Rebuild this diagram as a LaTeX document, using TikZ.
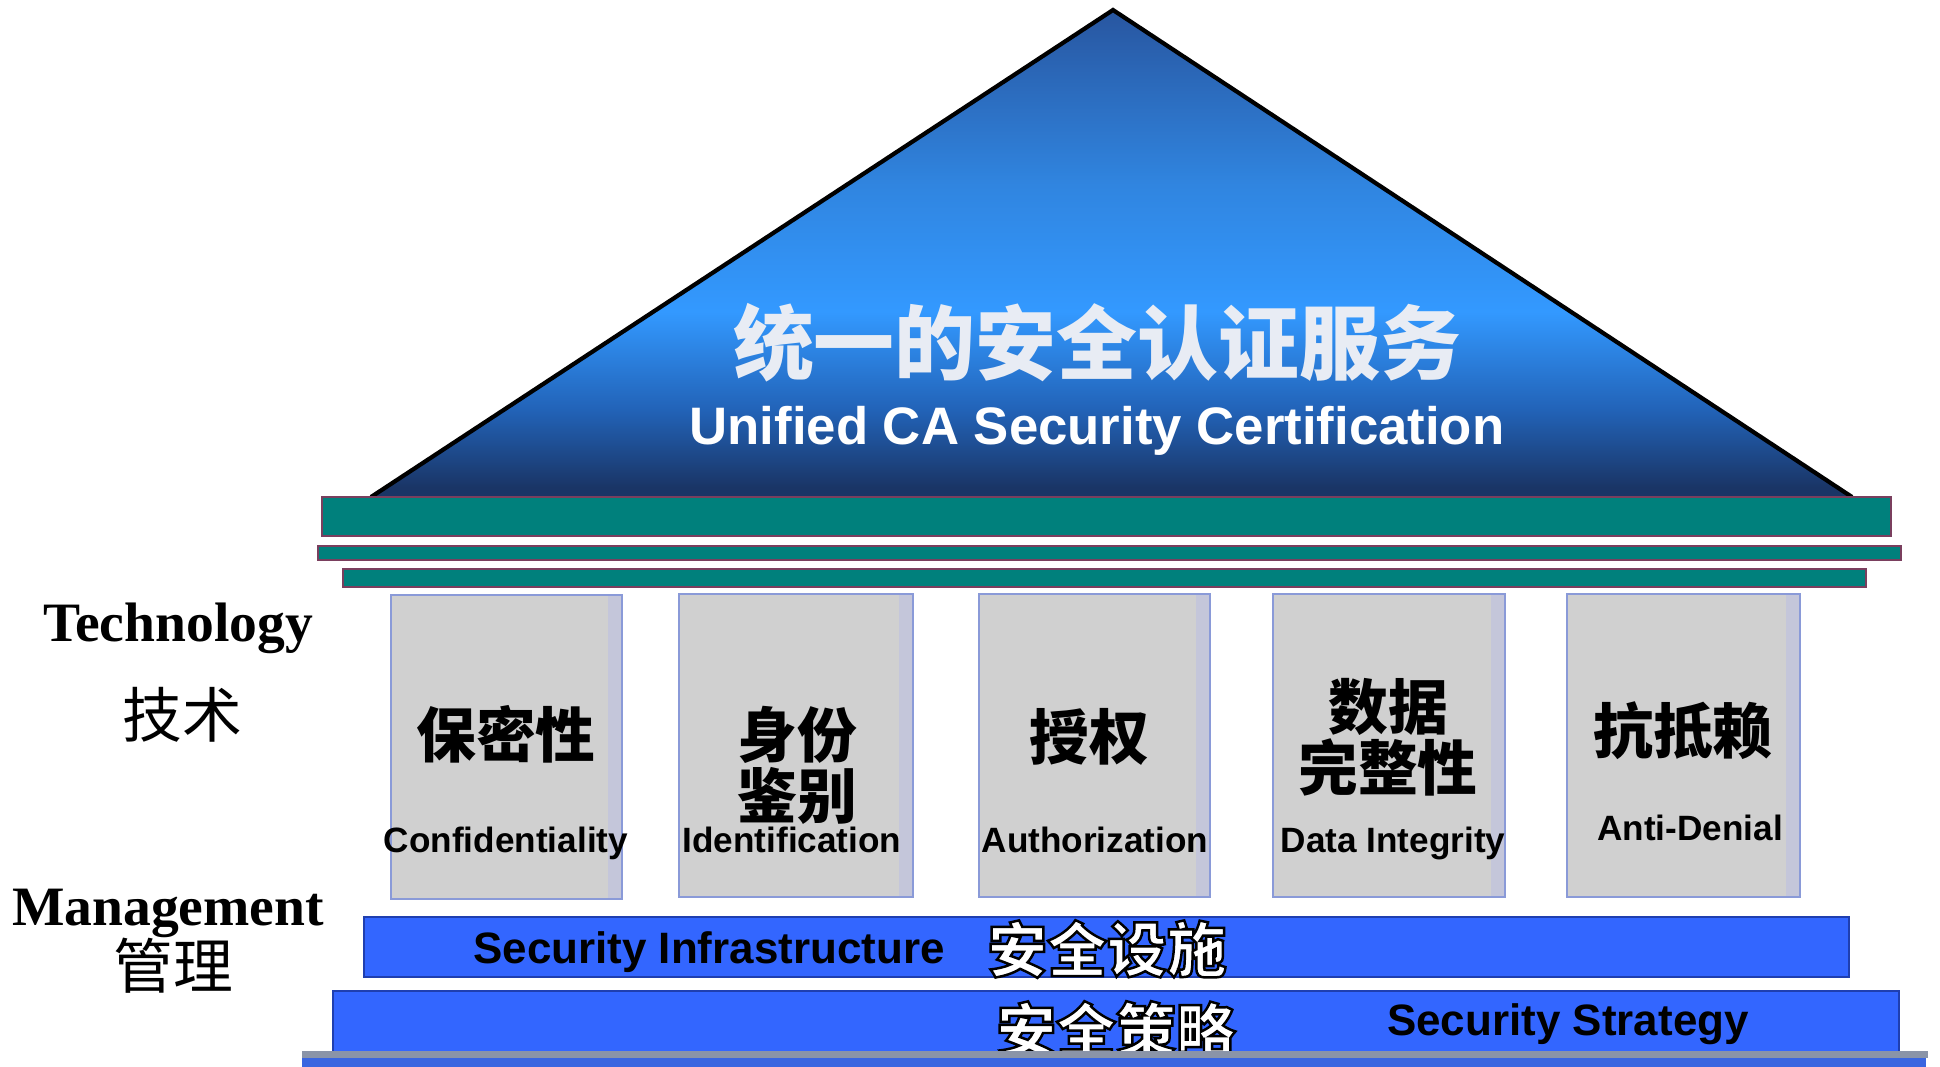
\documentclass[tikz,border=0pt]{standalone}
\usepackage{fontspec}
\setmainfont{Liberation Sans}
\newfontfamily\timesf{Liberation Serif}
\newfontfamily\cjk{Noto Sans CJK SC}
\definecolor{tealbar}{HTML}{00807C}
\definecolor{tealedge}{HTML}{7A3F5E}
\definecolor{pillarfill}{HTML}{D0D0D0}
\definecolor{pillaredge}{HTML}{8A9AD8}
\definecolor{pillarside}{HTML}{C4C6DA}
\definecolor{barblue}{HTML}{3366FF}
\definecolor{baredge}{HTML}{1F3FB0}
\definecolor{stripgray}{HTML}{8A94A8}
\definecolor{stripblue}{HTML}{3A66E0}
\definecolor{headtxt}{HTML}{E8ECF4}
\definecolor{rA}{HTML}{2856A0}
\definecolor{rB}{HTML}{3085E0}
\definecolor{rC}{HTML}{3399FF}
\definecolor{rD}{HTML}{2263B8}
\definecolor{rE}{HTML}{1A3566}
\pgfdeclareverticalshading{roof}{100bp}{color(0bp)=(rE); color(26bp)=(rE); color(34bp)=(rD); color(44bp)=(rC); color(57bp)=(rB); color(75bp)=(rA); color(100bp)=(rA)}
\newcommand{\outl}[1]{\special{pdf:literal direct q 2 Tr 0.7 w 0 0 0 RG}#1\special{pdf:literal direct Q}}
\newcommand{\pillarbox}[4]{%
  \fill[pillarfill] (#1,#3) rectangle (#2,#4);
  \fill[pillarside] ({#2-14},#3) rectangle (#2,#4);
  \draw[pillaredge, line width=0.6pt] (#1,#3) rectangle (#2,#4);}
\tikzset{
  tealstyle/.style={fill=tealbar, draw=tealedge, line width=0.5pt},
  bluebar/.style={fill=barblue, draw=baredge, line width=0.6pt},
  txt/.style={inner sep=0pt, anchor=center},
  btxt/.style={inner sep=0pt, anchor=base},
  entxt/.style={btxt, font=\fontsize{10}{12}\selectfont\bfseries},
  cntxt/.style={txt, align=center, font=\fontsize{17}{16.2}\selectfont\cjk\bfseries},
}
\begin{document}
\begin{tikzpicture}[x=0.01cm,y=-0.01cm]
\useasboundingbox (0,0) rectangle (1940,1066);
\fill[white] (0,0) rectangle (1940,1066);

% roof
\coordinate (apex) at (1113,10);
\coordinate (bl) at (371,497);
\coordinate (br) at (1852,497);
\shade[shading=roof] (bl) -- (apex) -- (br) -- cycle;
\draw[black, line width=1.2pt, line join=miter] (bl) -- (apex) -- (br);
\node[txt, font=\fontsize{23}{26}\selectfont\cjk\bfseries, text=headtxt] (head) at (1097,343) {统一的安全认证服务};
\node[btxt, font=\fontsize{15}{18}\selectfont\bfseries, text=white] (headen) at (1097,444) {Unified CA Security Certification};

% beams
\draw[tealstyle] (322,497) rectangle (1891,536);
\draw[tealstyle] (318,546) rectangle (1901,560);
\draw[tealstyle] (343,569) rectangle (1866,587);

% pillars
\pillarbox{391}{622}{595}{899}
\pillarbox{679}{913}{594}{897}
\pillarbox{979}{1210}{594}{897}
\pillarbox{1273}{1505}{594}{897}
\pillarbox{1567}{1800}{594}{897}

\node[cntxt] (p1c) at (506,734) {保密性};
\node[entxt] (p1e) at (506,852) {Confidentiality};
\node[cntxt] (p2c) at (797,765) {身份\\鉴别};
\node[entxt] (p2e) at (792,852) {Identification};
\node[cntxt] (p3c) at (1089,737) {授权};
\node[entxt] (p3e) at (1095,852) {Authorization};
\node[cntxt] (p4c) at (1388,737) {数据\\完整性};
\node[entxt] (p4e) at (1393,852) {Data Integrity};
\node[cntxt] (p5c) at (1683,731) {抗抵赖};
\node[entxt] (p5e) at (1690,840) {Anti-Denial};

% left labels
\node[btxt, font=\fontsize{15.8}{18}\selectfont\timesf\bfseries] (tech) at (178,641) {Technology};
\node[txt, font=\fontsize{17}{20}\selectfont\cjk] (techc) at (182,715) {技术};
\node[btxt, font=\fontsize{15.8}{18}\selectfont\timesf\bfseries] (mgmt) at (168,925) {Management};
\node[txt, font=\fontsize{17}{20}\selectfont\cjk] (mgmtc) at (173,966) {管理};

% foundation bars
\draw[bluebar] (364,917) rectangle (1849,977);
\node[btxt, font=\fontsize{12.5}{15}\selectfont\bfseries] (infra) at (709,963) {Security Infrastructure};
\node[txt, font=\fontsize{17}{20}\selectfont\cjk\bfseries, text=white] (infrac) at (1107,949) {\outl{安全设施}};

\draw[bluebar] (333,991) rectangle (1899,1070);
\node[txt, font=\fontsize{17}{20}\selectfont\cjk\bfseries, text=white] (stratc) at (1116,1030) {\outl{安全策略}};
\node[btxt, font=\fontsize{12.5}{15}\selectfont\bfseries] (strat) at (1568,1035) {Security Strategy};

% bottom strip
\fill[stripblue] (302,1058) rectangle (1926,1070);
\fill[stripgray] (302,1051) rectangle (1928,1058);
\end{tikzpicture}
\end{document}
